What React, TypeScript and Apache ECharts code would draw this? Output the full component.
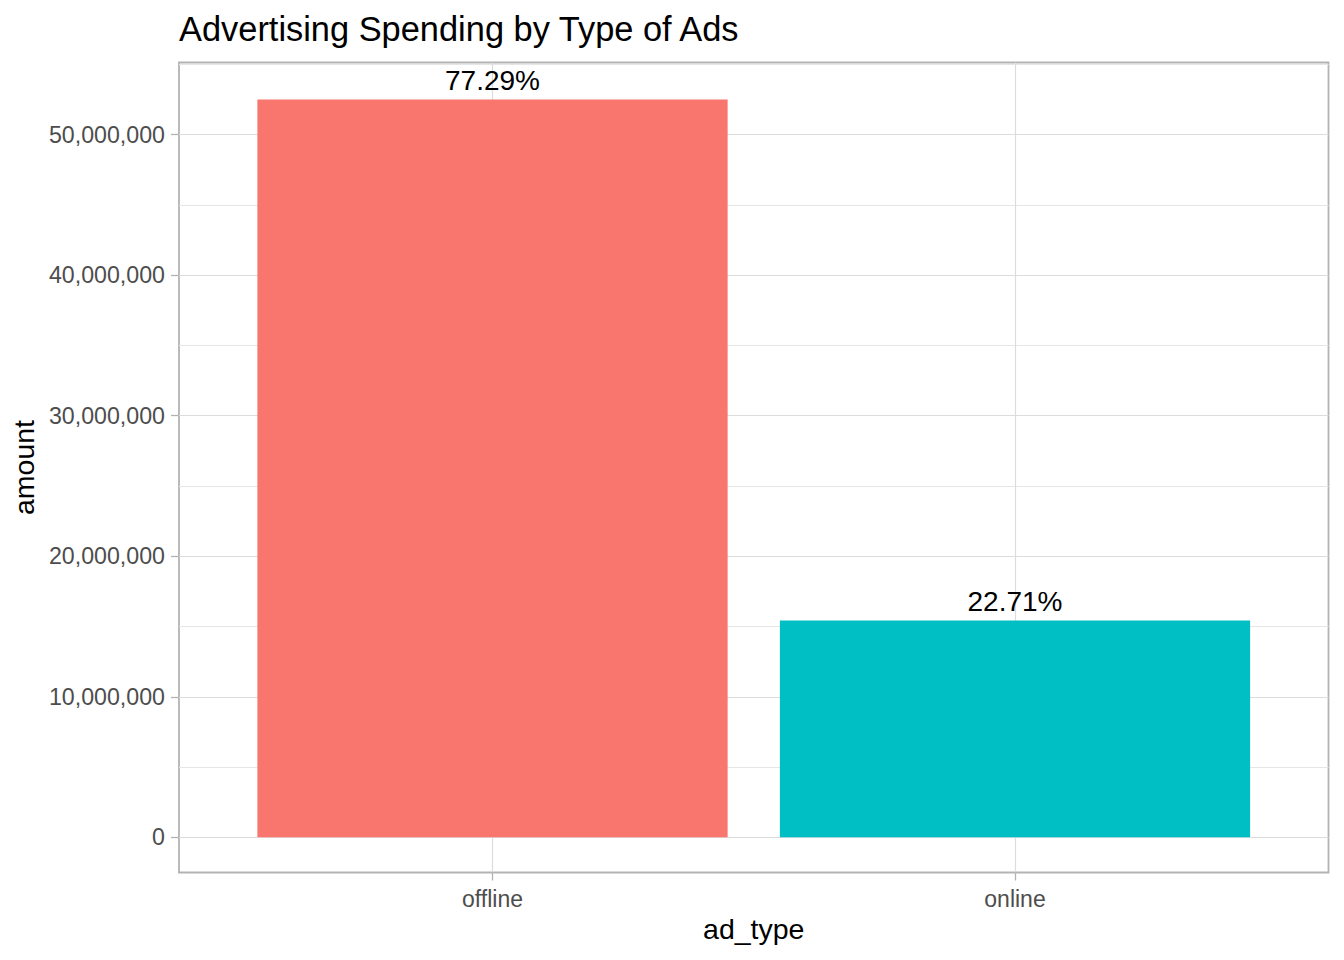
import React, { useEffect, useRef } from 'react';
import * as echarts from 'echarts';

// ---- data ----
const categories: string[] = ['offline', 'online'];
const amounts: number[] = [52500000, 15430000];
const barColors: string[] = ['#F8766D', '#00BFC4'];
const yMajorTicks: number[] = [0, 10000000, 20000000, 30000000, 40000000, 50000000];
const yMinorTicks: number[] = [5000000, 15000000, 25000000, 35000000, 45000000, 55000000];

const TITLE = 'Advertising Spending by Type of Ads';
const X_NAME = 'ad_type';
const Y_NAME = 'amount';

const FONT = "'Liberation Sans', Arial, Helvetica, sans-serif";
const MAJOR = '#dcdcdc';
const MINOR = '#e6e6e6';
const BORDER = '#b3b3b3';
const CLEAR = 'rgba(0,0,0,0)';

export default function App() {
  const ref = useRef<HTMLDivElement>(null);

  useEffect(() => {
    if (!ref.current) return;
    const chart = echarts.init(ref.current, null, { renderer: 'svg' });

    const total = amounts.reduce((a, b) => a + b, 0);
    const pct = amounts.map((v) => ((v / total) * 100).toFixed(2) + '%');

    const yMin = -2500000;
    const yMax = 55125000;
    const step = 2500000;

    const outer = { left: 179, top: 62.5, width: 1149.5, height: 810 };
    const innerLeft = outer.left + (outer.width * 0.1) / 2.2;
    const innerWidth = (outer.width * 2) / 2.2;

    // 12 slots across the panel (0.2 units each over 2.2 units): category centres at slots 3 and 8
    const vSlots = Array.from({ length: 12 }, (_, i) => 's' + i);
    const vColors = vSlots.map((_, i) => (i === 3 || i === 8 ? MAJOR : CLEAR));

    const isMajor = (v: number) => yMajorTicks.some((t) => Math.abs(t - v) < 1);
    const isMinor = (v: number) => yMinorTicks.some((t) => Math.abs(t - v) < 1);
    const tickVals: number[] = [];
    for (let v = yMin; v <= yMax + 1; v += step) tickVals.push(v);
    const majorColors = tickVals.map((v) => (isMajor(v) ? MAJOR : CLEAR));
    const minorColors = tickVals.map((v) => (isMinor(v) ? MINOR : CLEAR));

    const fmt = (v: number) =>
      String(Math.round(v)).replace(/\B(?=(\d{3})+(?!\d))/g, ',');

    chart.setOption({
      animation: false,
      backgroundColor: '#ffffff',
      textStyle: { fontFamily: FONT },
      title: {
        text: TITLE,
        left: 174,
        top: 7,
        textStyle: { fontFamily: FONT, fontSize: 34.4, fontWeight: 'normal', color: '#000000' },
      },
      grid: [
        {
          left: outer.left,
          top: outer.top,
          width: outer.width,
          height: outer.height,
          show: true,
          backgroundColor: 'transparent',
          borderColor: BORDER,
          borderWidth: 1.8,
          containLabel: false,
        },
        {
          left: innerLeft,
          top: outer.top,
          width: innerWidth,
          height: outer.height,
          show: false,
          containLabel: false,
        },
      ],
      xAxis: [
        {
          gridIndex: 0,
          type: 'category',
          data: vSlots,
          boundaryGap: false,
          position: 'bottom',
          axisLine: { show: false, onZero: false },
          axisTick: { show: false },
          axisLabel: { show: false },
          splitLine: { show: true, interval: 0, lineStyle: { color: vColors, width: 1.2 } },
        },
        {
          gridIndex: 1,
          type: 'category',
          data: categories,
          boundaryGap: true,
          position: 'bottom',
          axisLine: { show: false, onZero: false },
          axisTick: { show: true, alignWithLabel: true, length: 8, lineStyle: { color: BORDER, width: 1.3 } },
          axisLabel: { show: true, color: '#4d4d4d', fontSize: 23, fontFamily: FONT, margin: 14.5 },
          splitLine: { show: false },
          name: X_NAME,
          nameLocation: 'middle',
          nameGap: 42,
          nameTextStyle: { fontSize: 28.5, color: '#000000', fontFamily: FONT },
        },
      ],
      yAxis: [
        {
          gridIndex: 0,
          type: 'value',
          position: 'left',
          min: yMin,
          max: yMax,
          interval: step,
          axisLine: { show: false, onZero: false },
          axisTick: { show: false },
          axisLabel: {
            show: true,
            color: '#4d4d4d',
            fontSize: 23.2,
            fontFamily: FONT,
            margin: 14,
            formatter: (v: number) => (isMajor(v) ? fmt(v) : ''),
          },
          splitLine: { show: true, showMaxLine: false, lineStyle: { color: majorColors, width: 1.2 } },
          name: Y_NAME,
          nameLocation: 'middle',
          nameGap: 135,
          nameTextStyle: { fontSize: 28.5, color: '#000000', fontFamily: FONT },
        },
        {
          gridIndex: 0,
          type: 'value',
          position: 'left',
          min: yMin,
          max: yMax,
          interval: step,
          axisLine: { show: false, onZero: false },
          axisTick: { show: false },
          axisLabel: { show: false },
          splitLine: { show: true, showMaxLine: false, lineStyle: { color: minorColors, width: 1 } },
        },
        {
          gridIndex: 0,
          type: 'value',
          position: 'left',
          min: yMin,
          max: yMax,
          minInterval: 10000000,
          maxInterval: 10000000,
          axisLine: { show: false, onZero: false },
          axisTick: { show: true, length: 8, customValues: yMajorTicks, lineStyle: { color: BORDER, width: 1.3 } },
          axisLabel: { show: false },
          splitLine: { show: false },
        },
        {
          gridIndex: 1,
          type: 'value',
          position: 'left',
          min: yMin,
          max: yMax,
          show: false,
          splitLine: { show: false },
        },
      ],
      series: [
        {
          type: 'bar',
          xAxisIndex: 1,
          yAxisIndex: 3,
          barWidth: '90%',
          z: 3,
          data: amounts.map((v, i) => ({ value: v, itemStyle: { color: barColors[i] } })),
          label: {
            show: true,
            position: 'top',
            distance: 4.5,
            fontSize: 28,
            fontFamily: FONT,
            color: '#000000',
            formatter: (p: any) => pct[p.dataIndex],
          },
        },
      ],
    });

    return () => chart.dispose();
  }, []);

  return (
    <div
      ref={ref}
      style={{ position: 'absolute', left: 0, top: 0, width: 1344, height: 960, background: '#ffffff' }}
    />
  );
}
